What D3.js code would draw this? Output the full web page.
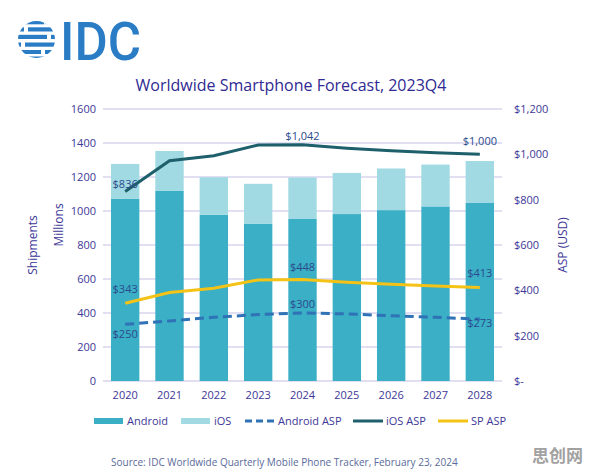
<!DOCTYPE html>
<html>
<head>
<meta charset="utf-8">
<script src="https://cdn.jsdelivr.net/npm/d3@7"></script>
<style>
  body { margin: 0; background: #fff; }
  svg { font-family: "Open Sans", "Noto Sans", sans-serif; }
</style>
</head>
<body>
<div id="chart"></div>
<script>
// data
const years = ["2020", "2021", "2022", "2023", "2024", "2025", "2026", "2027", "2028"];
const android = [1073, 1118, 977, 924, 953, 982, 1005, 1027, 1047];
const ios = [204, 235, 222, 236, 244, 242, 245, 246, 247];
const androidAsp = [250, 265, 281, 293, 300, 296, 288, 281, 273];
const iosAsp = [836, 972, 994, 1041, 1042, 1027, 1016, 1007, 1000];
const spAsp = [343, 390, 409, 446, 448, 436, 427, 419, 413];
const leftTicks = [0, 200, 400, 600, 800, 1000, 1200, 1400, 1600];
const rightTicks = [0, 200, 400, 600, 800, 1000, 1200];

const W = 596, H = 473;
const txt = "#3d3797";
const colAndroid = "#3aafc6", colIos = "#a2dae4";
const colAndroidAsp = "#2f72b6", colIosAsp = "#1d5f6b", colSpAsp = "#f5c216";

const svg = d3.select("#chart").append("svg")
    .attr("width", W).attr("height", H);

// IDC logo
const logo = svg.append("g");
logo.append("clipPath").attr("id", "globe")
    .append("circle").attr("cx", 36.5).attr("cy", 39.5).attr("r", 18.5);
const stripes = [
    {y: 20.5, h: 3.8, gaps: [[44, 48]]},
    {y: 27.3, h: 4.2, gaps: [[24, 28]]},
    {y: 34.8, h: 4.2, gaps: [[47, 51]]},
    {y: 42.5, h: 4.2, gaps: [[21, 25]]},
    {y: 50, h: 4.0, gaps: [[41, 45]]},
    {y: 56.5, h: 3.0, gaps: []}
];
const sg = logo.append("g").attr("clip-path", "url(#globe)");
stripes.forEach(s => {
    sg.append("rect").attr("x", 17).attr("y", s.y).attr("width", 40).attr("height", s.h)
        .attr("fill", "#2a7cc4");
    s.gaps.forEach(g => sg.append("rect").attr("x", g[0]).attr("y", s.y - 0.5)
        .attr("width", g[1] - g[0]).attr("height", s.h + 1).attr("fill", "#fff"));
});
logo.append("text").attr("x", 60).attr("y", 60)
    .attr("font-family", "Roboto, sans-serif").attr("font-weight", 500)
    .attr("font-size", 54).attr("textLength", 81).attr("lengthAdjust", "spacingAndGlyphs")
    .attr("fill", "#2a7cc4").text("IDC");

// title
svg.append("text").attr("x", 291).attr("y", 91).attr("text-anchor", "middle")
    .attr("font-size", 16).attr("fill", "#302a92")
    .text("Worldwide Smartphone Forecast, 2023Q4");

// scales
const x = d3.scaleBand().domain(years).range([103, 502]).paddingInner(0.36).paddingOuter(0.18);
const y = d3.scaleLinear().domain([0, 1600]).range([381, 109]);
const y2 = d3.scaleLinear().domain([0, 1200]).range([381, 109]);

// gridlines
svg.append("g").selectAll("line").data(leftTicks).join("line")
    .attr("x1", 103).attr("x2", 502)
    .attr("y1", d => y(d)).attr("y2", d => y(d))
    .attr("stroke", "#d8d4ef").attr("stroke-width", 1.3);

// left axis
const leftAxis = svg.append("g").attr("transform", "translate(96,0)")
    .call(d3.axisLeft(y).tickValues(leftTicks).tickSize(0).tickPadding(0)
        .tickFormat(d3.format("d")));
leftAxis.select(".domain").remove();
leftAxis.selectAll("text").attr("font-size", 11).attr("fill", txt)
    .attr("font-family", "Open Sans, sans-serif");

// right axis
const rightAxis = svg.append("g").attr("transform", "translate(514,0)")
    .call(d3.axisRight(y2).tickValues(rightTicks).tickSize(0).tickPadding(0)
        .tickFormat(d => d === 0 ? "$-" : d3.format("$,")(d)));
rightAxis.select(".domain").remove();
rightAxis.selectAll("text").attr("font-size", 11).attr("fill", txt)
    .attr("font-family", "Open Sans, sans-serif");

// bottom axis
const bottomAxis = svg.append("g").attr("transform", "translate(0,388)")
    .call(d3.axisBottom(x).tickSize(0).tickPadding(3));
bottomAxis.select(".domain").remove();
bottomAxis.selectAll("text").attr("font-size", 11).attr("fill", txt)
    .attr("font-family", "Open Sans, sans-serif");

// axis titles
svg.append("text").attr("transform", "translate(37,245) rotate(-90)")
    .attr("text-anchor", "middle").attr("font-size", 12).attr("fill", txt).text("Shipments");
svg.append("text").attr("transform", "translate(63,225) rotate(-90)")
    .attr("text-anchor", "middle").attr("font-size", 12).attr("fill", txt).text("Millions");
svg.append("text").attr("transform", "translate(567,245) rotate(-90)")
    .attr("text-anchor", "middle").attr("font-size", 12).attr("fill", txt).text("ASP (USD)");

// stacked bars
const rows = years.map((yr, i) => ({year: yr, android: android[i], ios: ios[i]}));
const stack = d3.stack().keys(["android", "ios"])(rows);
const barColor = {android: colAndroid, ios: colIos};
svg.append("g").selectAll("g").data(stack).join("g")
    .attr("fill", d => barColor[d.key])
    .selectAll("rect").data(d => d).join("rect")
    .attr("x", d => x(d.data.year))
    .attr("width", x.bandwidth())
    .attr("y", d => y(d[1]))
    .attr("height", d => y(d[0]) - y(d[1]));

// ASP lines
const cx = i => x(years[i]) + x.bandwidth() / 2;
const line = d3.line().x((d, i) => cx(i)).y(d => y2(d));
svg.append("path").datum(androidAsp).attr("d", line).attr("fill", "none")
    .attr("stroke", colAndroidAsp).attr("stroke-width", 3).attr("stroke-dasharray", "9,5");
svg.append("path").datum(iosAsp).attr("d", line).attr("fill", "none")
    .attr("stroke", colIosAsp).attr("stroke-width", 3);
svg.append("path").datum(spAsp).attr("d", line).attr("fill", "none")
    .attr("stroke", colSpAsp).attr("stroke-width", 3);

// data labels (first, 2024 and last point of each line)
const fmt = d3.format("$,");
const labels = [
    {s: iosAsp, i: 0, dy: -4, dx: 0},
    {s: iosAsp, i: 4, dy: -5, dx: 0},
    {s: iosAsp, i: 8, dy: -9, dx: 0},
    {s: spAsp, i: 0, dy: -10, dx: 0},
    {s: spAsp, i: 4, dy: -8, dx: 0},
    {s: spAsp, i: 8, dy: -10, dx: 0},
    {s: androidAsp, i: 0, dy: 14, dx: 0},
    {s: androidAsp, i: 4, dy: -5, dx: 0},
    {s: androidAsp, i: 8, dy: 8, dx: 0}
];
svg.append("g").selectAll("text").data(labels).join("text")
    .attr("x", d => cx(d.i) + d.dx)
    .attr("y", d => y2(d.s[d.i]) + d.dy)
    .attr("text-anchor", "middle")
    .attr("font-size", 11).attr("fill", "#2b4a8c")
    .text(d => fmt(d.s[d.i]));

// legend
const legend = [
    {name: "Android", type: "rect", color: colAndroid, x: 94},
    {name: "iOS", type: "rect", color: colIos, x: 181},
    {name: "Android ASP", type: "dash", color: colAndroidAsp, x: 245},
    {name: "iOS ASP", type: "line", color: colIosAsp, x: 353},
    {name: "SP ASP", type: "line", color: colSpAsp, x: 438}
];
const lg = svg.append("g").selectAll("g").data(legend).join("g")
    .attr("transform", d => `translate(${d.x},421)`);
lg.filter(d => d.type === "rect").append("rect")
    .attr("x", 0).attr("y", -3).attr("width", 29).attr("height", 6)
    .attr("fill", d => d.color);
lg.filter(d => d.type !== "rect").append("line")
    .attr("x1", 0).attr("x2", 30).attr("y1", 0).attr("y2", 0)
    .attr("stroke", d => d.color).attr("stroke-width", 3)
    .attr("stroke-dasharray", d => d.type === "dash" ? "7,4" : null);
lg.append("text").attr("x", 33).attr("y", 4)
    .attr("font-size", 11).attr("fill", txt).text(d => d.name);

// source
svg.append("text").attr("x", 111).attr("y", 466)
    .attr("font-size", 10).attr("fill", "#5a6a9a")
    .text("Source:  IDC Worldwide Quarterly Mobile Phone Tracker, February 23, 2024");

// watermark
svg.append("text").attr("x", 532).attr("y", 462)
    .attr("font-family", "Noto Sans CJK SC, sans-serif").attr("font-weight", 700)
    .attr("font-size", 17).attr("fill", "#8a8a8a").attr("opacity", 0.8)
    .text("思创网");
</script>
</body>
</html>
